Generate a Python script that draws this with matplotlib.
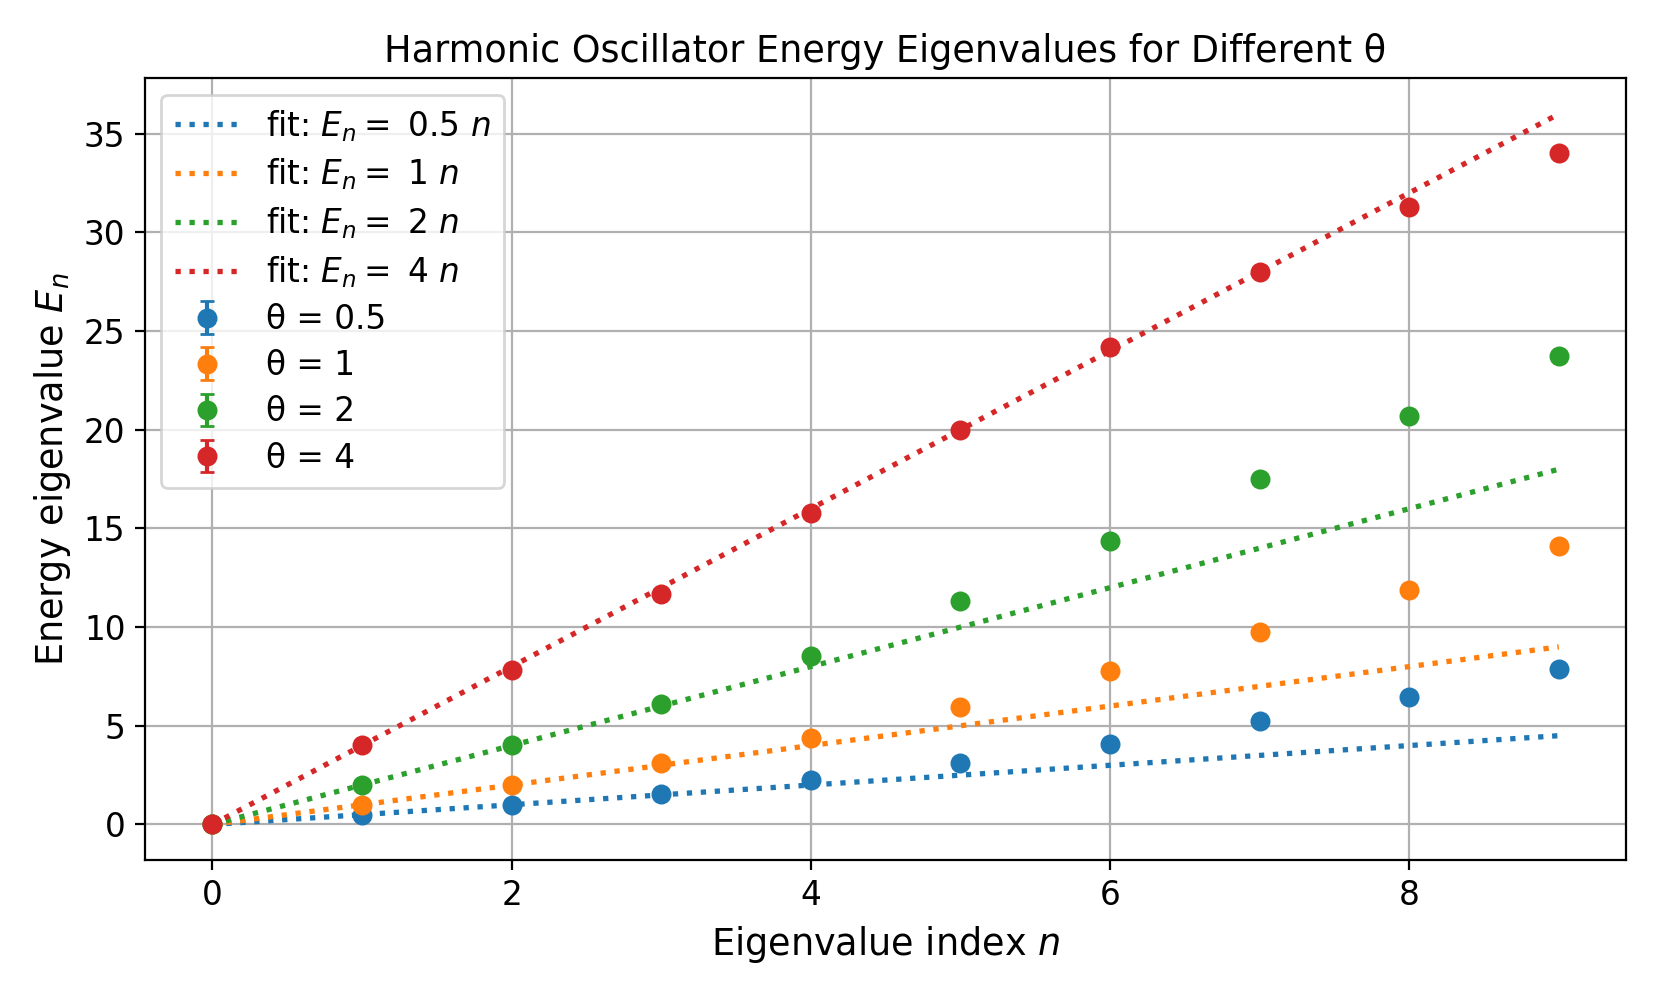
import numpy as np
import matplotlib
matplotlib.use("Agg")
from matplotlib import pyplot as plt

#### Data
n_index = [0, 1, 2, 3, 4, 5, 6, 7, 8, 9]
thetas = [0.5, 1, 2, 4]

energy_05 = [0.0, 0.49, 1.01, 1.57, 2.24, 3.10, 4.08, 5.22, 6.46, 7.86]
energy_1 = [0.0, 1.01, 2.00, 3.10, 4.39, 5.96, 7.77, 9.76, 11.90, 14.12]
energy_2 = [0.0, 2.02, 4.03, 6.13, 8.55, 11.33, 14.37, 17.52, 20.68, 23.75]
energy_4 = [0.0, 4.03, 7.84, 11.67, 15.78, 20.00, 24.20, 28.00, 31.28, 34.03]

# tiny uncertainties, hidden behind the markers
energy_err = [0.0, 0.02, 0.02, 0.02, 0.02, 0.02, 0.02, 0.02, 0.02, 0.02]

# fitted slopes (E_n = slope * n)
fit_slopes = [0.5, 1, 2, 4]

colors = ['tab:blue', 'tab:orange', 'tab:green', 'tab:red']

#### Plot
fig = plt.figure(figsize=(8.305, 4.985), dpi=200)
ax = fig.add_axes([0.0873, 0.1374, 0.979 - 0.0873, 0.9213 - 0.1374])

n = np.array(n_index)
all_energies = [energy_05, energy_1, energy_2, energy_4]

for theta, energies, slope, col in zip(thetas, all_energies, fit_slopes, colors):
    ax.errorbar(n, energies, yerr=energy_err, fmt='o', color=col,
                markersize=6.2, capsize=2.5, label=f'θ = {theta:g}')
    ax.plot(n, slope * n, linestyle=':', linewidth=1.9, color=col,
            label=f'fit: $E_n = $ {slope:g} $n$')

ax.set_xlabel('Eigenvalue index $n$', fontsize=13.2)
ax.set_ylabel('Energy eigenvalue $E_n$', fontsize=13.2)
ax.set_title('Harmonic Oscillator Energy Eigenvalues for Different θ', fontsize=13.2)
ax.tick_params(labelsize=11.8)
ax.grid(True)
ax.legend(loc='upper left', fontsize=11.8, labelspacing=0.4)

fig.savefig('out.png', dpi=200)
